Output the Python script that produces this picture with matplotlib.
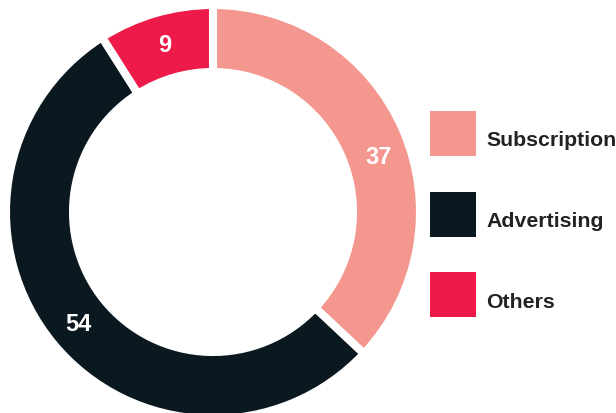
import matplotlib
matplotlib.use('Agg')
import matplotlib.pyplot as plt
from matplotlib.patches import Rectangle
import numpy as np

labels = ['Subscription', 'Advertising', 'Others']
values = [37, 54, 9]
colors = ['#F4978E', '#0A1820', '#EE1A4A']

W, H = 616, 414
fig = plt.figure(figsize=(W / 100, H / 100), dpi=100)
ax = fig.add_axes([0, 0, 1, 1])

cx, cy = 213, H - 213
R = 207
wedges, texts, autotexts = ax.pie(
    values, colors=colors, startangle=90, counterclock=False,
    radius=R, center=(cx, cy), frame=True,
    wedgeprops=dict(width=67, edgecolor='white', linewidth=5.8),
    autopct=lambda p: '%d' % round(p * sum(values) / 100),
    pctdistance=0.845,
    textprops=dict(color='white', fontsize=17, fontweight='bold',
                   family='Liberation Sans'))

# small nudge of the first label, as in the reference
x, y = autotexts[0].get_position()
ang = np.arctan2(y - cy, x - cx) - np.radians(5)
r = np.hypot(x - cx, y - cy)
autotexts[0].set_position((cx + r * np.cos(ang), cy + r * np.sin(ang)))

ax.set_xlim(0, W)
ax.set_ylim(0, H)
ax.set_aspect('equal')
ax.axis('off')

# legend swatches
for i, (lab, col) in enumerate(zip(labels, colors)):
    top = 112 + i * 80.5
    ax.add_patch(Rectangle((430, H - top - 45), 46, 45, facecolor=col, edgecolor='none'))
    ax.text(486, H - top - 29, lab, fontsize=15.3, fontweight='bold',
            family='Liberation Sans', color='#222222', va='center', ha='left')

fig.savefig('out.png', dpi=100)
